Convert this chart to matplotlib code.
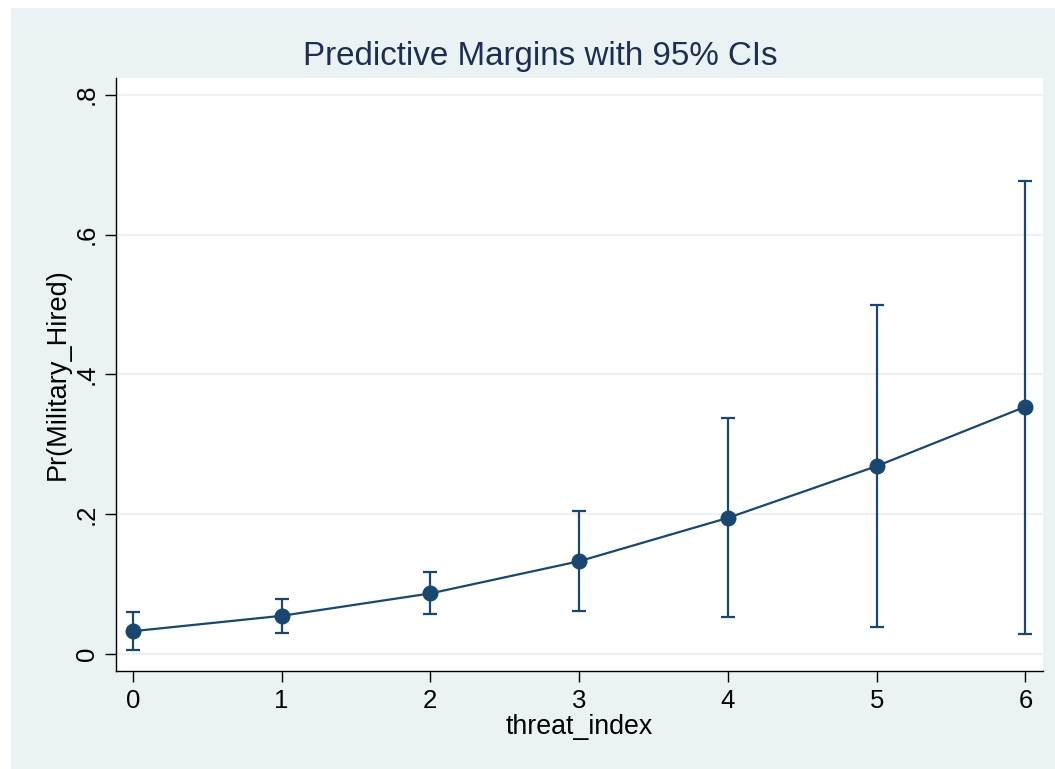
import matplotlib.pyplot as plt
from matplotlib.patches import Rectangle

plt.rcParams['font.family'] = ['Liberation Sans', 'DejaVu Sans']

# threat_index levels and predictive margins with 95% CIs
threat = [0, 1, 2, 3, 4, 5, 6]
margin = [0.033, 0.055, 0.087, 0.133, 0.195, 0.269, 0.354]
ci_low = [0.006, 0.031, 0.057, 0.062, 0.053, 0.039, 0.029]
ci_high = [0.060, 0.079, 0.118, 0.205, 0.338, 0.500, 0.677]

ytick_vals = [0, 0.2, 0.4, 0.6, 0.8]
ytick_labels = ["0", ".2", ".4", ".6", ".8"]

navy = "#1A476F"
bg = "#EAF2F3"

fig = plt.figure(figsize=(10.55, 7.69), dpi=100)
fig.patch.set_facecolor("white")
fig.patches.append(Rectangle((11 / 1055, 0), 1 - 11 / 1055, 1 - 8 / 769,
                             transform=fig.transFigure, facecolor=bg,
                             edgecolor="none", zorder=-5))

ax = fig.add_axes([0.10995, 0.12744, 0.87839, 0.77113])
ax.set_facecolor("white")

yerr = [[m - lo for m, lo in zip(margin, ci_low)],
        [hi - m for m, hi in zip(margin, ci_high)]]
ax.errorbar(threat, margin, yerr=yerr, fmt="none", ecolor=navy,
            elinewidth=1.6, capsize=4.8, capthick=1.6, zorder=3)
ax.plot(threat, margin, color=navy, lw=1.6, marker="o", ms=10.5, zorder=4)

ax.set_xlim(-0.113, 6.116)
ax.set_ylim(-0.0239, 0.8239)
ax.set_xticks(threat)
ax.set_yticks(ytick_vals)
ax.set_yticklabels(ytick_labels, rotation=90, va="center")
ax.grid(axis="y", color=bg, lw=1.5)
ax.set_axisbelow(True)

for s in ["top", "right"]:
    ax.spines[s].set_visible(False)
for s in ["left", "bottom"]:
    ax.spines[s].set_linewidth(1.0)
    ax.spines[s].set_color("black")

ax.tick_params(axis="both", length=8, width=1.0, labelsize=18.5, colors="black")
ax.tick_params(axis="y", pad=4.5)
ax.tick_params(axis="x", pad=5)

ax.set_xlabel("threat_index", fontsize=19.3, labelpad=1)
ax.set_ylabel("Pr(Military_Hired)", fontsize=19.5, labelpad=3)

fig.text(540 / 1055, 1 - 56 / 769, "Predictive Margins with 95% CIs",
         ha="center", va="center", fontsize=23.9, color="#1E2D53")

fig.savefig("out.png", dpi=100)
